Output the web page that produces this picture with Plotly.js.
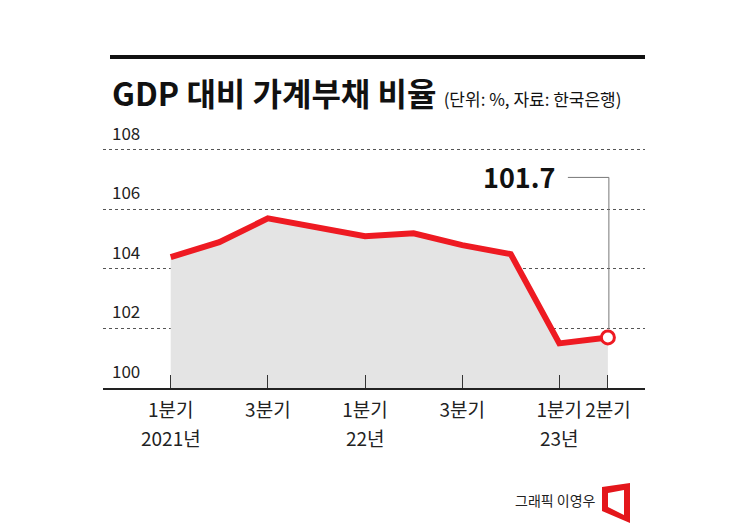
<!DOCTYPE html>
<html>
<head>
<meta charset="utf-8">
<script src="https://cdn.plot.ly/plotly-3.0.1.min.js"></script>
<style>html,body{margin:0;padding:0;background:#fff;}#chart{width:745px;height:529px;}</style>
</head>
<body>
<div id="chart"></div>
<script>
// ---- data ----
const quarters = ["2021 Q1","2021 Q2","2021 Q3","2021 Q4","2022 Q1","2022 Q2","2022 Q3","2022 Q4","2023 Q1","2023 Q2"];
const ratio = [104.4, 104.9, 105.7, 105.4, 105.1, 105.2, 104.8, 104.5, 101.5, 101.7];
const xTickIdx = [0, 2, 4, 6, 8, 9];
const xTickText = ["1분기", "3분기", "1분기", "3분기", "1분기", "2분기"];
const yearText = ["2021년", "", "22년", "", "23년", ""];
const yTicks = [100, 102, 104, 106, 108];
const titleText = "GDP 대비 가계부채 비율";
const subtitleText = "(단위: %, 자료: 한국은행)";
const creditText = "그래픽 이영우";

// ---- layout helpers (pixel -> paper) ----
const L = 103, T = 147, W = 542, H = 241, B = T + H;
const PX = x => (x - L) / W;
const PY = y => (B - y) / H;
const FONT = '"Noto Sans CJK KR", "Noto Sans", sans-serif';
const RED = '#ee1a22';

const xIdx = quarters.map((q, i) => i);
const last = ratio.length - 1;

const traces = [
  { x: xIdx, y: ratio, type: 'scatter', mode: 'lines', fill: 'tozeroy',
    fillcolor: '#e4e4e4', line: { width: 0, color: 'rgba(0,0,0,0)' }, hoverinfo: 'skip' },
  { x: xIdx, y: ratio, type: 'scatter', mode: 'lines',
    line: { color: RED, width: 6, shape: 'linear' }, hoverinfo: 'skip' },
  { x: [xIdx[last]], y: [ratio[last]], type: 'scatter', mode: 'markers',
    marker: { size: 13, color: '#ffffff', line: { color: RED, width: 3 } }, hoverinfo: 'skip' }
];

const annotations = [];
yTicks.forEach(v => annotations.push({
  xref: 'paper', yref: 'y', x: PX(110), y: v, xanchor: 'left', yanchor: 'bottom',
  yshift: 3, text: String(v), showarrow: false,
  font: { family: FONT, size: 17, color: '#222' }
}));
xTickIdx.forEach((xi, k) => {
  if (yearText[k]) annotations.push({
    xref: 'x', yref: 'paper', x: xi, y: PY(437), xanchor: 'center', yanchor: 'middle',
    text: yearText[k], showarrow: false, font: { family: FONT, size: 19, color: '#222' }
  });
});
annotations.push({
  xref: 'paper', yref: 'paper', x: PX(110), y: PY(92), xanchor: 'left', yanchor: 'middle',
  text: '<b>' + titleText + '</b> <span style="font-size:17px">' + subtitleText + '</span>',
  showarrow: false, font: { family: FONT, size: 32, color: '#111' }
});
annotations.push({
  xref: 'x', yref: 'y', x: xIdx[last], y: ratio[last], xanchor: 'right', yanchor: 'middle',
  xshift: -50, yshift: 161, text: '<b>' + ratio[last].toFixed(1) + '</b>', showarrow: false,
  font: { family: FONT, size: 27, color: '#111' }
});
annotations.push({
  xref: 'paper', yref: 'paper', x: PX(598), y: PY(500), xanchor: 'right', yanchor: 'middle',
  text: creditText, showarrow: false, font: { family: FONT, size: 14, color: '#222' }
});

const logoPath = (() => {
  const p = (x, y) => PX(x) + ',' + PY(y);
  return 'M' + p(602,487) + 'L' + p(630,483) + 'L' + p(630,523) + 'L' + p(602,511) + 'Z' +
         'M' + p(608,493) + 'L' + p(624,490) + 'L' + p(624,515) + 'L' + p(608,507) + 'Z';
})();

const shapes = [
  { type: 'line', xref: 'paper', yref: 'paper', x0: PX(110), x1: PX(645), y0: PY(57), y1: PY(57),
    line: { color: '#111', width: 4 } },
  { type: 'path', xref: 'x', yref: 'y', xsizemode: 'pixel', ysizemode: 'pixel',
    xanchor: xIdx[last], yanchor: ratio[last],
    path: 'M 1,8 L 1,160 L -40,160', line: { color: '#777', width: 1 } },
  { type: 'path', xref: 'paper', yref: 'paper', path: logoPath, fillcolor: '#e4161b',
    line: { width: 0 }, fillrule: 'evenodd' }
];

const layout = {
  width: 745, height: 529,
  margin: { l: L, r: 745 - L - W, t: T, b: 529 - B, pad: 0 },
  paper_bgcolor: '#fff', plot_bgcolor: '#fff',
  showlegend: false,
  xaxis: {
    range: [-1.394, 9.764], tickvals: xTickIdx, ticktext: xTickText,
    ticks: 'inside', ticklen: 13, tickwidth: 1, tickcolor: '#333',
    showline: true, linecolor: '#222', linewidth: 2, showgrid: false, zeroline: false,
    tickfont: { family: FONT, size: 19, color: '#222' }, ticklabelstandoff: 4
  },
  yaxis: {
    range: [100, 108.1], tickvals: yTicks, showticklabels: false,
    showgrid: true, gridcolor: '#555', griddash: 'dot', gridwidth: 1,
    zeroline: false, showline: false
  },
  annotations: annotations,
  shapes: shapes
};

Plotly.newPlot('chart', traces, layout, { staticPlot: true, displayModeBar: false });
</script>
</body>
</html>
